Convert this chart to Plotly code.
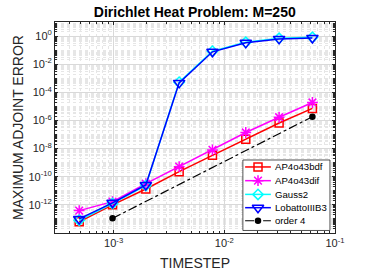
import plotly.graph_objects as go

# ---------------- data ----------------
timestep = [1/2048, 1/1024, 1/512, 1/256, 1/128, 1/64, 1/32, 1/16]
ap4o43bdf = [6.3e-14, 1.0e-12, 1.35e-11, 2.3e-10, 3.3e-9, 4.7e-8, 6.6e-7, 7.2e-6]
ap4o43dif = [3.9e-13, 1.7e-12, 3.2e-11, 5.2e-10, 8.1e-9, 1.4e-7, 1.7e-6, 1.9e-5]
gauss2 = [8.0e-14, 1.25e-12, 2.4e-11, 5.2e-4, 8.4e-2, 0.36, 0.69, 0.81]
lobatto = [1.0e-13, 1.4e-12, 2.6e-11, 4.7e-4, 7.6e-2, 0.33, 0.63, 0.74]
order4_x = [1/1024, 1/16]
order4_y = [1.1e-13, 1.85e-6]

series_names = ["AP4o43bdf", "AP4o43dif", "Gauss2", "LobattoIIIB3", "order 4"]

ytick_vals = [1e-12, 1e-10, 1e-8, 1e-6, 1e-4, 1e-2, 1e0]
ytick_text = ["10<sup>-12</sup>", "10<sup>-10</sup>", "10<sup>-8</sup>", "10<sup>-6</sup>",
              "10<sup>-4</sup>", "10<sup>-2</sup>", "10<sup>0</sup>"]
xtick_vals = [1e-3, 1e-2, 1e-1]
xtick_text = ["10<sup>-3</sup>", "10<sup>-2</sup>", "10<sup>-1</sup>"]

# ---------------- styles ----------------
FONT = "Liberation Sans, Arial, Helvetica"
styles = [
    dict(color="#ff0000", symbol="square-open", size=8, dash="solid", lw=1.5),
    dict(color="#ff00ff", symbol="asterisk-open", size=9, dash="solid", lw=1.5),
    dict(color="#00ffff", symbol="diamond-open", size=8, dash="solid", lw=1.5),
    dict(color="#0000ff", symbol="triangle-down-open", size=10, dash="solid", lw=1.5),
    dict(color="#000000", symbol="circle", size=5, dash="dashdot", lw=1.2),
]
series_x = [timestep, timestep, timestep, timestep, order4_x]
series_y = [ap4o43bdf, ap4o43dif, gauss2, lobatto, order4_y]

fig = go.Figure()
for name, sx, sy, st in zip(series_names, series_x, series_y, styles):
    fig.add_trace(go.Scatter(
        x=sx, y=sy, name=name, mode="lines+markers", showlegend=False,
        xaxis="x", yaxis="y",
        line=dict(color=st["color"], width=st["lw"], dash=st["dash"]),
        marker=dict(symbol=st["symbol"], size=st["size"], color=st["color"],
                    line=dict(width=1.5, color=st["color"])),
    ))


def axis_style(**kw):
    d = dict(
        showline=True, linecolor="#262626", linewidth=1, mirror="allticks",
        ticks="inside", ticklen=3, tickcolor="#262626",
        showgrid=True, gridcolor="#d9d9d9", gridwidth=1,
        zeroline=False, automargin=False, type="log", tickmode="array",
        tickfont=dict(family=FONT, size=11, color="#262626"),
        minor=dict(dtick="D1", showgrid=True, gridcolor="#e6e6e6", griddash="dot",
                   ticks="inside", ticklen=2, tickcolor="#262626"),
    )
    d.update(kw)
    return d


xaxis = axis_style(range=[-3.53, -1.0], tickvals=xtick_vals, ticktext=xtick_text,
                   title=dict(text="TIMESTEP", font=dict(family=FONT, size=14, color="#262626"),
                              standoff=9))
yaxis = axis_style(range=[-14, 1], tickvals=ytick_vals, ticktext=ytick_text,
                   title=dict(text="MAXIMUM ADJOINT ERROR", font=dict(family=FONT, size=14, color="#262626"),
                              standoff=1))

# ---------------- legend (MATLAB-style box in the lower right) ----------------
leg_left, leg_right, leg_top, leg_bottom = 0.671, 0.982, 0.346, 0.012
row_y = [0.313, 0.248, 0.183, 0.120, 0.058]
line_x0, line_x1, mark_x, text_x = 0.679, 0.771, 0.725, 0.780

# legend box (white, drawn above the grid of the main plot)
fig.add_trace(go.Scatter(
    x=[leg_left, leg_right, leg_right, leg_left, leg_left],
    y=[leg_bottom, leg_bottom, leg_top, leg_top, leg_bottom],
    xaxis="x2", yaxis="y2", mode="lines", fill="toself", fillcolor="white",
    line=dict(color="#262626", width=0.8), showlegend=False, hoverinfo="skip",
))
annotations = []
for name, st, ry in zip(series_names, styles, row_y):
    fig.add_trace(go.Scatter(
        x=[line_x0, line_x1], y=[ry, ry], xaxis="x2", yaxis="y2", mode="lines",
        showlegend=False, hoverinfo="skip",
        line=dict(color=st["color"], width=st["lw"], dash=st["dash"]),
    ))
    fig.add_trace(go.Scatter(
        x=[mark_x], y=[ry], xaxis="x2", yaxis="y2", mode="markers", showlegend=False,
        hoverinfo="skip",
        marker=dict(symbol=st["symbol"], size=st["size"], color=st["color"],
                    line=dict(width=1.5, color=st["color"])),
    ))
    annotations.append(dict(text=name, xref="paper", yref="paper", x=text_x, y=ry,
                            xanchor="left", yanchor="middle", showarrow=False,
                            font=dict(family=FONT, size=9.6, color="#000000")))

fig.update_layout(
    width=371, height=278,
    margin=dict(l=55, r=36, t=22, b=45),
    paper_bgcolor="white", plot_bgcolor="white",
    xaxis=xaxis, yaxis=yaxis,
    xaxis2=dict(overlaying="x", anchor="y2", range=[0, 1], visible=False, fixedrange=True,
                showgrid=False, zeroline=False),
    yaxis2=dict(overlaying="y", anchor="x2", range=[0, 1], visible=False, fixedrange=True,
                showgrid=False, zeroline=False),
    title=dict(text="<b>Dirichlet Heat Problem: M=250</b>", x=0.525, xanchor="center", y=0.955, yanchor="middle",
               font=dict(family=FONT, size=14, color="#000000")),
    annotations=annotations,
    showlegend=False,
)

fig.write_html("out.html", config={"displayModeBar": False},
               post_script="document.body.style.margin='0px';")
